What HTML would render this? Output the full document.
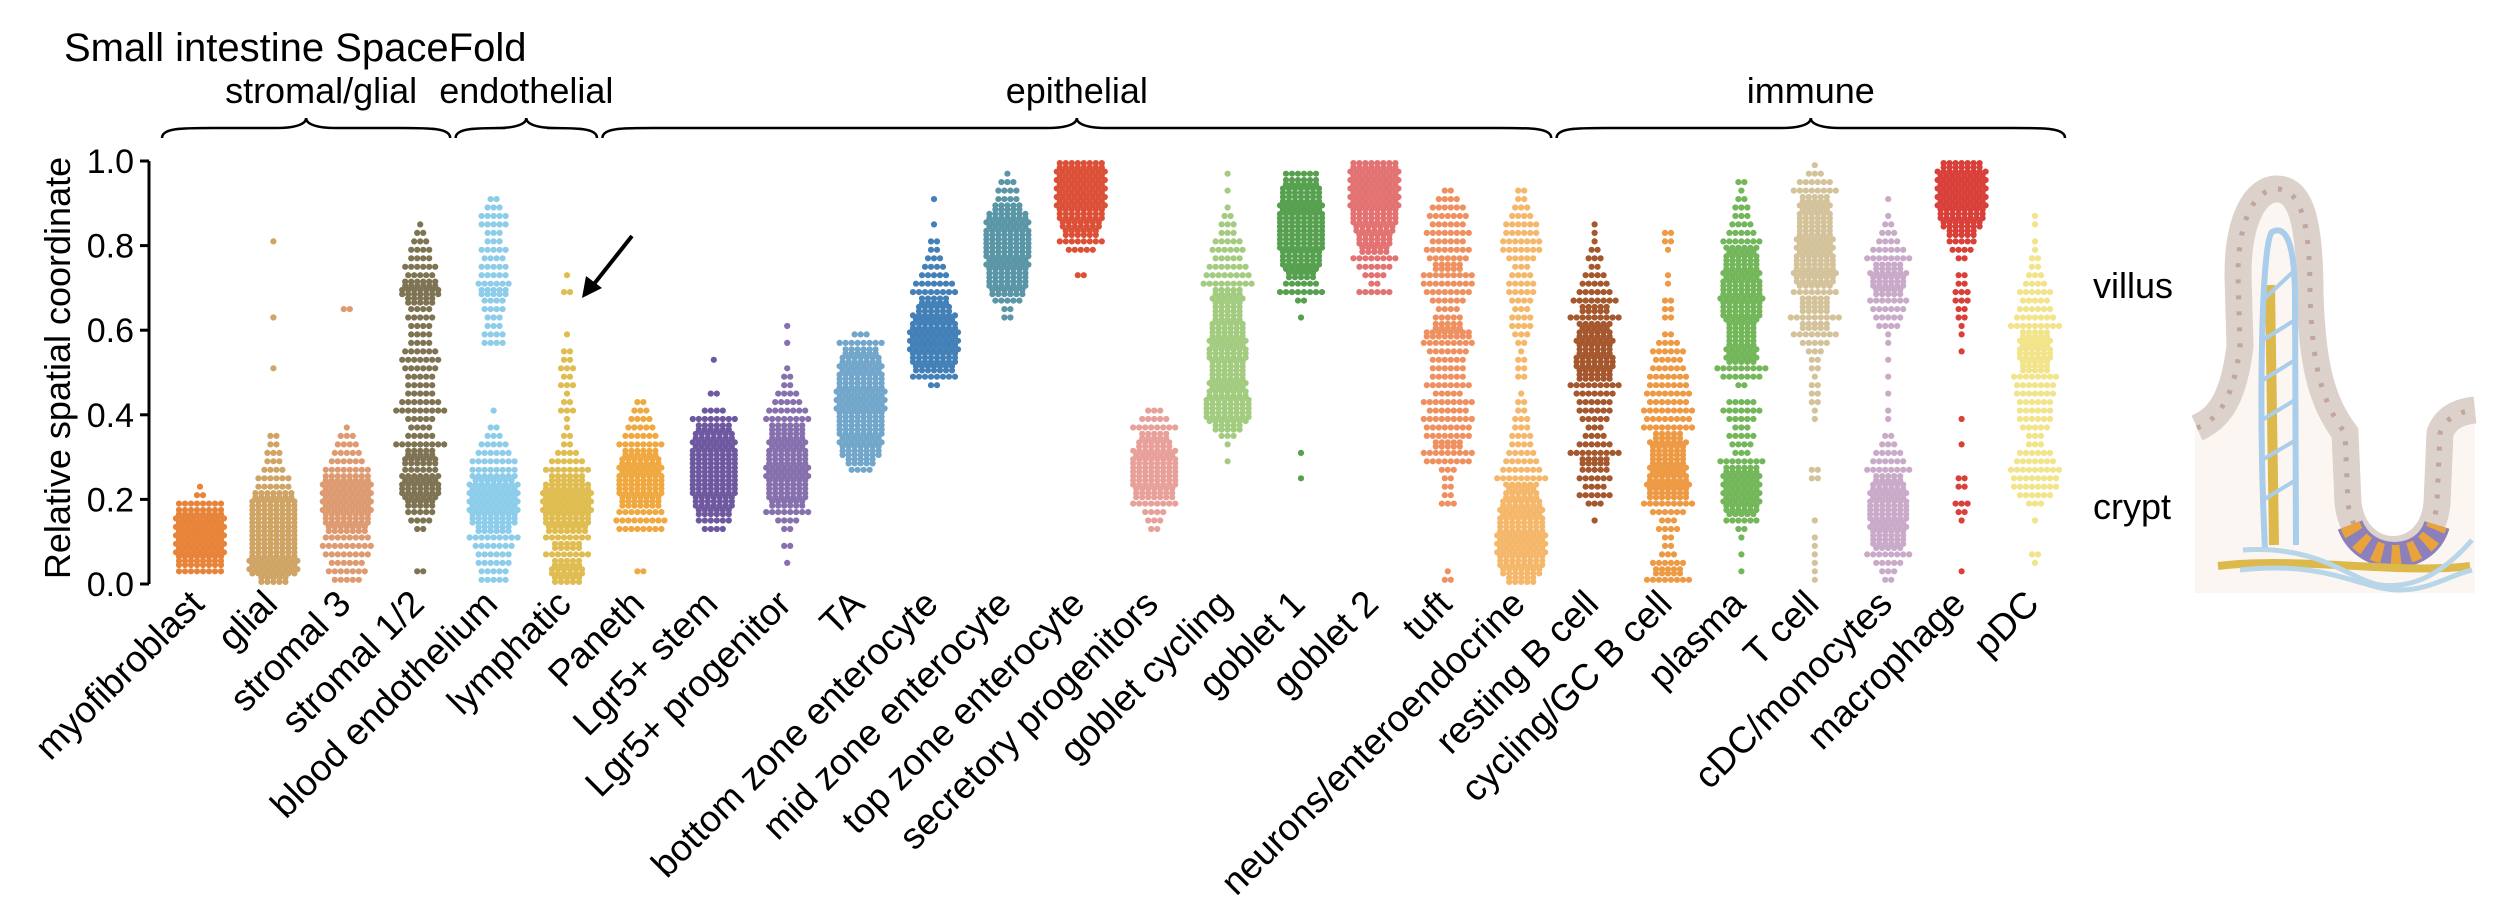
<!DOCTYPE html>
<html><head><meta charset="utf-8"><title>Small intestine SpaceFold</title>
<style>
html,body{margin:0;padding:0;background:#fff;}
svg{display:block;font-family:"Liberation Sans",Arial,sans-serif;}
</style></head>
<body>
<svg id="chart" width="2504" height="908" viewBox="0 0 2504 908" xmlns="http://www.w3.org/2000/svg">
  <text x="64" y="61" font-size="40" fill="#000">Small intestine SpaceFold</text>
  <g id="groups"></g>
  <g id="yaxis"></g>
  <text transform="translate(70,368) rotate(-90)" text-anchor="middle" font-size="36" fill="#000">Relative spatial coordinate</text>
  <g id="dots"></g>
  <g id="xlabels"></g>
  <g>
    <line x1="632" y1="236" x2="594" y2="284" stroke="#000" stroke-width="4"/>
    <polygon points="582,298 586,276 602,288" fill="#000"/>
  </g>
  <text x="2093" y="298" font-size="36" fill="#000">villus</text>
  <text x="2093" y="519" font-size="36" fill="#000">crypt</text>
  <g>
    <path d="M2195,430 C2215,410 2233,400 2240,350 L2238,270 C2240,200 2262,188 2277,188 C2295,188 2310,205 2310,260 L2312,330 C2315,400 2345,420 2347,470 L2348,505 C2360,560 2430,560 2437,505 L2440,440 C2445,420 2460,412 2475,408 L2475,593 L2195,593 Z" fill="#FBF6F2"/>
    <path d="M2197,428 C2215,420 2233,405 2240,346 L2238,275 C2238,220 2255,189 2277,189 C2300,189 2310,220 2310,293 C2312,360 2320,400 2345,433 L2348,503 C2355,565 2432,565 2437,503 L2440,433 C2445,420 2455,412 2475,410" fill="none" stroke="#DCD1CB" stroke-width="27"/>
    <path d="M2197,428 C2215,420 2233,405 2240,346 L2238,275 C2238,220 2255,189 2277,189 C2300,189 2310,220 2310,293 C2312,360 2320,400 2345,433 L2348,503 C2355,565 2432,565 2437,503 L2440,433 C2445,420 2455,412 2475,410" fill="none" stroke="#C2A69C" stroke-width="5" stroke-dasharray="4 12"/>
    <path d="M2350,525 C2365,565 2425,565 2437,525" fill="none" stroke="#8C80BC" stroke-width="26"/>
    <path d="M2350,525 C2365,565 2425,565 2437,525" fill="none" stroke="#E9A33C" stroke-width="20" stroke-dasharray="9 9"/>
    <path d="M2270,285 L2274,545" stroke="#DDB84A" stroke-width="10" fill="none"/>
    <path d="M2265,550 C2258,400 2262,240 2272,232 C2285,225 2295,240 2295,300 L2296,545" fill="none" stroke="#A9CDEB" stroke-width="6"/>
    <path d="M2263,300 L2295,270 M2263,340 L2295,320 M2263,380 L2295,360 M2262,420 L2295,400 M2262,460 L2296,440 M2263,500 L2296,480" stroke="#A9CDEB" stroke-width="4" fill="none"/>
    <path d="M2218,566 C2300,556 2400,575 2470,566" stroke="#DDB84A" stroke-width="8" fill="none"/>
    <path d="M2243,550 C2320,545 2350,580 2380,585 C2420,590 2450,565 2472,540" stroke="#B8D6E8" stroke-width="5" fill="none"/>
    <path d="M2240,570 C2330,560 2360,590 2400,590 C2430,590 2450,575 2472,570" stroke="#B8D6E8" stroke-width="5" fill="none"/>
  </g>
</svg>
<script>
const categories = ["myofibroblast","glial","stromal 3","stromal 1/2","blood endothelium","lymphatic","Paneth","Lgr5+ stem","Lgr5+ progenitor","TA","bottom zone enterocyte","mid zone enterocyte","top zone enterocyte","secretory progenitors","goblet cycling","goblet 1","goblet 2","tuft","neurons/enteroendocrine","resting B cell","cycling/GC B cell","plasma","T cell","cDC/monocytes","macrophage","pDC"];
const colors = ["#E8833A","#CFA465","#DE9A70","#7E7352","#8DCDEA","#E0BD50","#F0A940","#6E58A0","#8770AE","#72A6CB","#4380B8","#5A96A6","#DC5038","#E8A09A","#A3CC80","#57A050","#E37272","#EE9060","#F5B76A","#A5582E","#EE9A44","#73B75A","#D3C29A","#C9AAC8","#D9403A","#F2E48A"];
const startBins = [1,0,0,1,0,0,1,6,2,13,23,31,36,6,14,12,34,0,0,7,0,1,0,0,0,2];
// dots per 0.02-wide bin of the relative spatial coordinate, starting at startBins[i]
const counts = [
 [8,16,17,17,17,17,17,16,8,2,1],
 [10,17,17,16,16,16,16,16,16,16,14,6,6,4,3,3,2,2,0,0,0,0,0,0,0,1,0,0,0,0,0,1,0,0,0,0,0,0,0,0,1],
 [5,7,6,8,9,8,14,16,17,17,17,17,16,8,6,5,4,3,1,0,0,0,0,0,0,0,0,0,0,0,0,0,2],
 [2,0,0,0,0,2,4,5,10,13,14,13,6,12,10,9,5,4,5,9,7,5,5,5,6,7,6,4,4,4,5,4,10,14,12,5,6,4,4,3,2,1],
 [5,5,6,6,7,9,12,16,17,17,17,17,15,8,8,6,5,3,2,0,1,0,0,0,0,0,0,0,4,4,3,3,4,4,10,6,5,5,4,5,3,3,5,5,3,2],
 [10,12,10,8,10,8,14,16,17,17,17,16,12,8,6,4,2,2,1,1,3,2,1,3,2,3,2,2,0,1,0,0,0,0,2,0,1],
 [2,0,0,0,0,8,9,8,14,15,16,16,15,14,12,8,6,5,4,3,2],
 [4,6,12,14,15,16,16,16,16,16,15,14,12,8,4,0,2,0,0,0,1],
 [1,0,2,0,2,4,8,12,14,14,15,15,14,14,13,12,12,8,7,5,4,2,2,1,0,0,1,0,1],
 [4,10,14,15,15,16,16,17,17,17,16,16,15,14,12,8,3],
 [2,8,14,16,17,17,17,16,15,12,10,8,7,5,4,3,2,2,0,1,0,0,1],
 [2,2,5,12,14,14,15,15,16,16,16,15,14,10,4,4,3,1],
 [2,0,0,5,8,12,14,16,17,17,17,17,17,16],
 [2,3,4,8,14,15,16,16,16,15,12,10,8,5,3],
 [1,0,1,3,10,15,16,16,14,13,12,12,13,14,13,12,12,10,10,11,10,9,8,7,5,6,5,3,3,2,1,0,1,0,1],
 [1,0,0,1,0,0,0,0,0,0,0,0,0,0,0,0,0,0,0,1,0,2,8,6,10,13,14,15,16,16,16,16,15,14,14,12,6],
 [6,2,4,6,8,10,12,13,15,16,17,17,17,17,17,16],
 [2,1,0,0,0,0,0,0,0,3,2,2,2,3,8,9,10,8,8,9,7,9,5,8,6,6,6,7,9,16,10,5,4,6,8,9,9,10,7,8,6,8,6,7,6,4,2],
 [10,14,16,17,17,17,16,16,15,14,12,11,9,7,6,5,4,4,3,3,2,2,1,0,2,2,2,1,2,3,4,4,3,4,5,5,4,3,5,7,7,6,6,4,3,2,2],
 [1,0,3,6,4,6,5,10,9,6,4,3,5,6,6,7,9,12,13,14,12,13,12,11,9,10,8,6,5,4,2,3,2,1,1,1],
 [8,10,6,3,2,2,4,3,6,9,14,15,14,13,12,12,13,10,9,8,9,7,8,7,7,6,5,6,4,2,0,2,2,2,0,1,1,0,0,1,2,2],
 [1,0,1,0,1,2,6,11,13,13,13,13,12,8,3,4,5,3,5,7,5,0,2,7,9,11,11,10,10,10,13,14,15,14,14,13,12,12,11,7,5,4,3,3,2,1,2],
 [1,1,1,1,1,1,0,1,0,0,0,0,2,2,0,0,0,0,0,1,1,2,2,2,1,2,2,3,5,8,10,9,10,10,8,13,15,14,14,13,13,12,12,12,11,10,8,6,3,1],
 [2,3,5,8,11,12,13,13,14,14,13,12,10,8,6,5,3,2,0,1,1,0,1,0,1,0,1,0,1,1,4,5,6,7,10,12,13,10,8,6,4,3,2,1,0,1],
 [0,1,0,0,0,0,0,1,2,3,0,2,2,0,0,0,1,0,0,1,0,0,0,0,0,0,0,1,0,1,1,2,2,3,3,2,2,0,2,4,5,10,14,16,17,17,17,17,17,14],
 [1,2,0,0,0,1,0,3,6,8,8,9,7,6,3,3,5,6,6,6,7,7,8,10,11,12,11,10,9,7,6,5,6,4,3,2,2,1,1,0,1,1]
];
const yTicks = [0.0,0.2,0.4,0.6,0.8,1.0];
const groupNames = ["stromal/glial","endothelial","epithelial","immune"];
const groupFirst = [0,4,6,19];
const groupLast = [3,5,18,25];

const NS = "http://www.w3.org/2000/svg";
const X0 = 200, STEP = 73.4;
const Y0 = 584, Y1 = 161;
function xScale(i){ return X0 + i*STEP; }
function yScale(v){ return Y0 - v*(Y0-Y1); }
const BIN = 0.02, PER_ROW = 9, DX = 6.0, R = 3.1;

const yaxis = document.getElementById('yaxis');
const axisLine = document.createElementNS(NS,'line');


axisLine.setAttribute('x1',149); axisLine.setAttribute('x2',149);
axisLine.setAttribute('y1',yScale(1)); axisLine.setAttribute('y2',yScale(0));
axisLine.setAttribute('stroke','#000'); axisLine.setAttribute('stroke-width','3');
yaxis.appendChild(axisLine);
yTicks.forEach(function(t){
  const tk = document.createElementNS(NS,'line');
  
  
  tk.setAttribute('x1',140); tk.setAttribute('x2',149);
  tk.setAttribute('y1',yScale(t)); tk.setAttribute('y2',yScale(t));
  tk.setAttribute('stroke','#000'); tk.setAttribute('stroke-width','3');
  yaxis.appendChild(tk);
  const tl = document.createElementNS(NS,'text');
  
  
  tl.setAttribute('x',134); tl.setAttribute('y',yScale(t)+12);
  tl.setAttribute('text-anchor','end'); tl.setAttribute('font-size','34');
  tl.textContent = t.toFixed(1);
  yaxis.appendChild(tl);
});

const dots = document.getElementById('dots');
categories.forEach(function(cat, ci){
  const g = document.createElementNS(NS,'g');
  
  
  g.setAttribute('fill',colors[ci]);
  const cx = xScale(ci);
  counts[ci].forEach(function(n, k){
    if(!n) return;
    const bin = startBins[ci] + k;
    const yc = yScale((bin+0.5)*BIN);
    const rows = Math.ceil(n/PER_ROW);
    let left = n;
    for(let r=0;r<rows;r++){
      const m = Math.ceil(left/(rows-r));
      left -= m;
      const yy = yc + (r-(rows-1)/2)*4.2;
      for(let j=0;j<m;j++){
        const c = document.createElementNS(NS,'circle');
        
        
        c.setAttribute('cx',(cx+(j-(m-1)/2)*DX).toFixed(1));
        c.setAttribute('cy',yy.toFixed(1));
        c.setAttribute('r',R);
        g.appendChild(c);
      }
    }
  });
  dots.appendChild(g);
});

const xl = document.getElementById('xlabels');
categories.forEach(function(cat, ci){
  const t = document.createElementNS(NS,'text');
  
  
  t.setAttribute('transform','translate('+(xScale(ci)+6)+',606) rotate(-45)');
  t.setAttribute('text-anchor','end'); t.setAttribute('font-size','37');
  t.textContent = cat;
  xl.appendChild(t);
});

const gg = document.getElementById('groups');
groupNames.forEach(function(name, gi){
  const a = xScale(groupFirst[gi]) - 38, b = xScale(groupLast[gi]) + 30;
  const m = (a+b)/2, top = 118, bot = 138;
  const p = document.createElementNS(NS,'path');
  
  
  p.setAttribute('d','M'+a+','+bot+' C'+a+','+(top+10)+' '+(a+20)+','+(top+10)+' '+(a+50)+','+(top+10)+
    ' L'+(m-30)+','+(top+10)+' C'+(m-10)+','+(top+10)+' '+m+','+(top+6)+' '+m+','+top+
    ' C'+m+','+(top+6)+' '+(m+10)+','+(top+10)+' '+(m+30)+','+(top+10)+
    ' L'+(b-50)+','+(top+10)+' C'+(b-20)+','+(top+10)+' '+b+','+(top+10)+' '+b+','+bot);
  p.setAttribute('fill','none'); p.setAttribute('stroke','#000'); p.setAttribute('stroke-width','2.5');
  gg.appendChild(p);
  const t = document.createElementNS(NS,'text');
  
  
  t.setAttribute('x',m+(gi===0?15:0)); t.setAttribute('y',103);
  t.setAttribute('text-anchor','middle'); t.setAttribute('font-size','36');
  t.textContent = name;
  gg.appendChild(t);
});
</script>
</body></html>
